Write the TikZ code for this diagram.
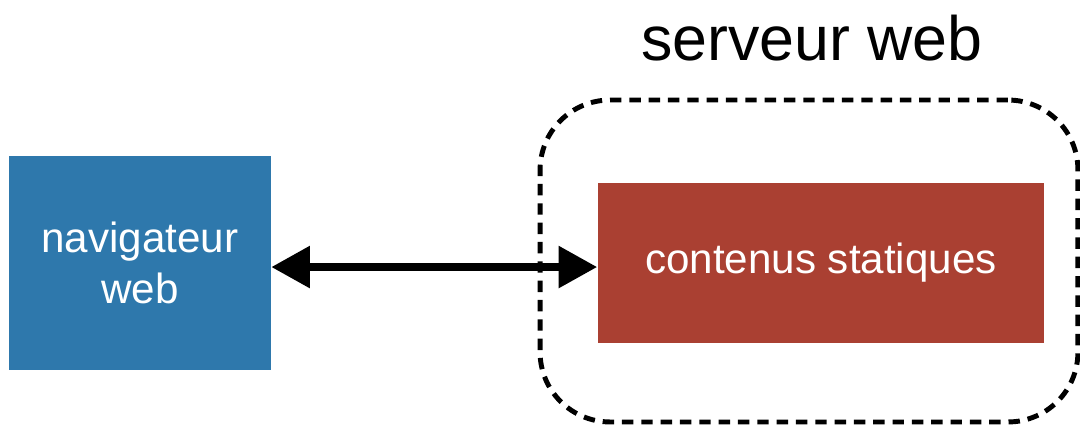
\documentclass[tikz,border=0pt]{standalone}
\usepackage{fontspec}
\setmainfont{Liberation Sans}
\usetikzlibrary{arrows.meta, positioning}
\definecolor{navblue}{RGB}{46,120,172}
\definecolor{statred}{RGB}{170,64,50}

\begin{document}
\begin{tikzpicture}[x=0.02cm, y=-0.02cm, >={Triangle[length=22pt,width=23pt]},
  box/.style={rectangle, fill=#1, text=white, align=center, inner sep=0pt, font=\fontsize{24}{29}\selectfont},
  box/.default=navblue,
  zone/.style={rectangle, draw, dash pattern=on 6.5pt off 4.5pt, line width=2.8pt, rounded corners=1.4cm}]
  \useasboundingbox (0,0) rectangle (1080,426);
  \node[zone, minimum width=10.76cm, minimum height=6.44cm] (srv) at (809,261) {};
  \node[font=\fontsize{35.7}{43}\selectfont] (title) at (812,38) {serveur web};
  \node[box, minimum width=5.24cm, minimum height=4.3cm] (nav) at (140,263) {navigateur\\web};
  \node[box=statred, minimum width=8.94cm, minimum height=3.2cm] (stat) at (821,263) {contenus statiques};
  \draw[<->, line width=4.5pt] ([yshift=-2.3pt]nav.east) -- ([yshift=-2.3pt]stat.west);
\end{tikzpicture}
\end{document}
